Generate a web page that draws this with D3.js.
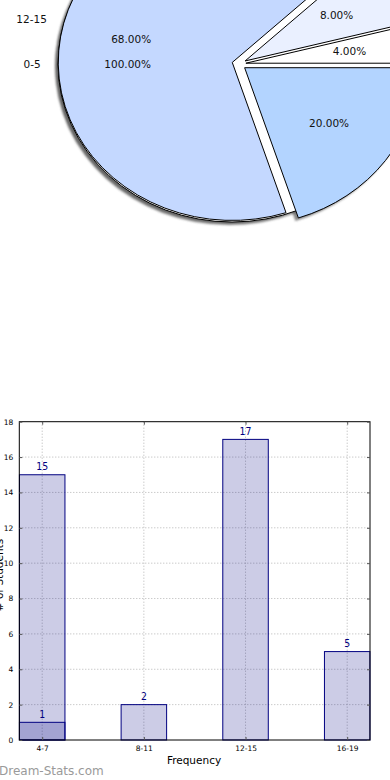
<!DOCTYPE html>
<html><head><meta charset="utf-8">
<script src="https://cdn.jsdelivr.net/npm/d3@7"></script>
<style>body{margin:0;background:#fff}svg{display:block}text{font-family:"DejaVu Sans",sans-serif}</style>
</head><body>
<svg id="c" width="390" height="780"></svg>
<script>
// ---- data ----
const pieCats = ["4-7", "8-11", "12-15", "16-19"];
const pieValues = [1, 2, 17, 5];
const pieColors = ["#ffffff", "#eaf0ff", "#c4d8ff", "#b3d4ff"];
const pie2Cats = ["0-5"];
const pie2Values = [15];
const barCats = ["4-7", "8-11", "12-15", "16-19"];
const barSeriesA = [1, 2, 17, 5];
const barSeriesBCats = ["4-7"];
const barSeriesB = [15];
const yTicks = [0, 2, 4, 6, 8, 10, 12, 14, 16, 18];
const xLabel = "Frequency";
const yLabel = "# of Students";
const watermark = "Dream-Stats.com";

const W = 390;
const svg = d3.select("#c");
svg.append("rect").attr("width", 390).attr("height", 780).attr("fill", "#fff");
const defs = svg.append("defs");
defs.append("filter").attr("id", "blur").attr("x", "-10%").attr("y", "-10%").attr("width", "120%").attr("height", "120%")
  .append("feGaussianBlur").attr("stdDeviation", 0.8);

// ---- pie ----
const cx = 239, cy = 64, rx = 174, ry = 158, explode = 0.04, R = 100;
const arc = d3.arc().innerRadius(0).outerRadius(R);
const pieGen = d3.pie().sort(null).value(d => d).startAngle(Math.PI / 2).endAngle(Math.PI / 2 - 2 * Math.PI);
const pg = svg.append("g").attr("transform", `translate(${cx},${cy})`);

function layout(values, cats, colors) {
  return pieGen(values).map((d, i) => {
    const mid = (d.startAngle + d.endAngle) / 2;
    const sx = Math.sin(mid), sy = -Math.cos(mid);
    return {d, cat: cats[i], color: colors[i], sx, sy,
      dx: explode * rx * sx, dy: explode * ry * sy,
      pct: d3.format(".2f")(d.value / d3.sum(values) * 100) + "%"};
  });
}
const slices2 = layout(pie2Values, pie2Cats, ["#ffffff"]);
const slices1 = layout(pieValues, pieCats, pieColors);
const all = slices2.concat(slices1);

// shadows
pg.append("g").attr("filter", "url(#blur)").selectAll("path").data(all).join("path")
  .attr("transform", s => `translate(${s.dx - 3},${s.dy + 3}) scale(${rx / R},${ry / R})`)
  .attr("d", s => arc(s.d)).attr("fill", "#555").attr("fill-opacity", 0.7);
// wedges
pg.append("g").selectAll("path").data(all).join("path")
  .attr("transform", s => `translate(${s.dx},${s.dy}) scale(${rx / R},${ry / R})`)
  .attr("d", s => arc(s.d)).attr("fill", s => s.color)
  .attr("stroke", "#000").attr("stroke-width", 1).attr("vector-effect", "non-scaling-stroke")
  .attr("stroke-linejoin", "miter");
// labels (outer category labels that fall beyond the right edge are not shown, as in the reference)
const lg = pg.append("g").attr("font-size", 10.5).attr("fill", "#111");
all.forEach(s => {
  const ox = s.dx + 1.1 * rx * s.sx;
  if (s.sx < 0 && cx + ox > 0) {
    lg.append("text").attr("x", ox).attr("y", s.dy + 1.1 * ry * s.sy)
      .attr("dy", "0.36em").attr("text-anchor", "end").text(s.cat);
  }
  lg.append("text").attr("x", s.dx + 0.6 * rx * s.sx).attr("y", s.dy + 0.6 * ry * s.sy)
    .attr("dy", "0.36em").attr("text-anchor", "middle").text(s.pct);
});

// ---- bar chart ----
const L = 19.3, Rt = 370, T = 421.7, B = 740;
const x = d3.scalePoint().domain(barCats).range([42.2, 347.2]);
const bw = 45.5;
const y = d3.scaleLinear().domain([0, 18]).range([B, T]);
const bg = svg.append("g");

// grid
bg.append("g").selectAll("line").data(yTicks.slice(1, -1)).join("line")
  .attr("x1", L).attr("x2", Rt).attr("y1", d => y(d)).attr("y2", d => y(d))
  .attr("stroke", "#b4b4b4").attr("stroke-width", 1).attr("stroke-dasharray", "1,2");
bg.append("g").selectAll("line").data(barCats).join("line")
  .attr("x1", d => x(d)).attr("x2", d => x(d)).attr("y1", T).attr("y2", B)
  .attr("stroke", "#b4b4b4").attr("stroke-width", 1).attr("stroke-dasharray", "1,2");

// bars
const barsB = barSeriesB.map((v, i) => ({cat: barSeriesBCats[i], v}));
const barsA = barSeriesA.map((v, i) => ({cat: barCats[i], v}));
[barsB, barsA].forEach(set => {
  bg.append("g").selectAll("rect").data(set).join("rect")
    .attr("x", d => x(d.cat) - bw / 2).attr("width", bw)
    .attr("y", d => y(d.v)).attr("height", d => y(0) - y(d.v))
    .attr("fill", "#000080").attr("fill-opacity", 0.2)
    .attr("stroke", "#000080").attr("stroke-width", 1);
});
[barsB, barsA].forEach(set => {
  bg.append("g").selectAll("text").data(set).join("text")
    .attr("transform", d => `translate(${x(d.cat)},${y(d.v) - 4.5}) scale(0.85,1)`)
    .attr("text-anchor", "middle").attr("font-size", 11).attr("fill", "#000080").text(d => d.v);
});

// frame
bg.append("rect").attr("x", L).attr("y", T).attr("width", Rt - L).attr("height", B - T)
  .attr("fill", "none").attr("stroke", "#000").attr("stroke-width", 1);

// axes (ticks inward)
const axL = d3.axisLeft(y).tickValues(yTicks).tickSizeInner(-3).tickSizeOuter(0).tickPadding(6);
const axR = d3.axisRight(y).tickValues(yTicks).tickSizeInner(-3).tickSizeOuter(0).tickFormat("");
const axB = d3.axisBottom(x).tickSizeInner(-3).tickSizeOuter(0).tickPadding(6);
const axT = d3.axisTop(x).tickSizeInner(-3).tickSizeOuter(0).tickFormat("");
const gl = bg.append("g").attr("transform", `translate(${L},0)`).call(axL);
const gr = bg.append("g").attr("transform", `translate(${Rt},0)`).call(axR);
const gb = bg.append("g").attr("transform", `translate(0,${B})`).call(axB);
const gt = bg.append("g").attr("transform", `translate(0,${T})`).call(axT);
[gl, gr, gb, gt].forEach(g => {
  g.select(".domain").remove();
  g.selectAll(".tick line").attr("stroke", "#555");
  g.selectAll("text").attr("font-family", "DejaVu Sans").attr("font-size", 7.5).attr("fill", "#000");
});
gb.selectAll("text").attr("dy", "0.71em");

// axis labels
svg.append("text").attr("x", 194).attr("y", 764).attr("text-anchor", "middle")
  .attr("font-size", 10.5).attr("fill", "#000").text(xLabel);
svg.append("text").attr("transform", "translate(3,575) rotate(-90)").attr("text-anchor", "middle")
  .attr("font-size", 10.5).attr("fill", "#000").text(yLabel);

// watermark
svg.append("text").attr("x", -1).attr("y", 775).attr("font-size", 12).attr("fill", "#9a9a9a").text(watermark);
</script>
</body></html>
